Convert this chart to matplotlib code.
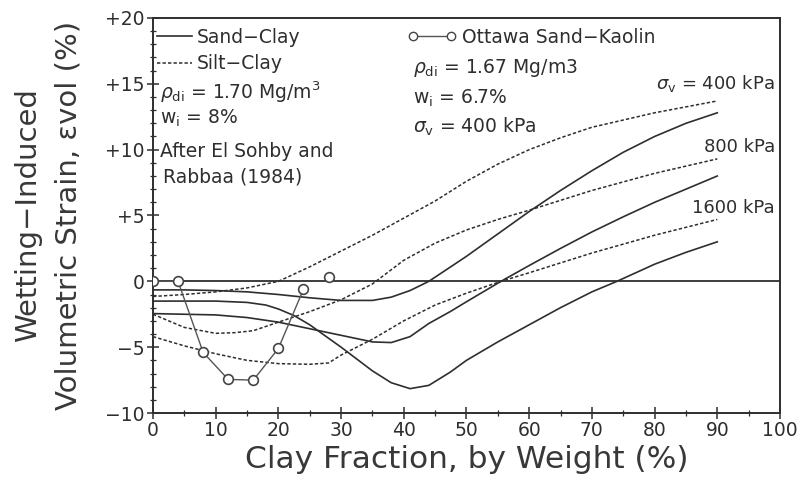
import numpy as np
import matplotlib
matplotlib.use('Agg')
import matplotlib.pyplot as plt
from matplotlib.lines import Line2D
from matplotlib.ticker import MultipleLocator

plt.rcParams['font.family'] = ['DejaVu Sans']
plt.rcParams['mathtext.fontset'] = 'dejavusans'

#--------------------------------------------------#
# El Sohby and Rabbaa (1984) curves, clay fraction (%) vs strain (%)
sand_400_x = [0, 5, 10, 15, 20, 25, 30, 35, 38, 41, 44, 50, 55, 60, 65, 70, 75, 80, 85, 90]
sand_400_y = [-0.65, -0.65, -0.7, -0.8, -1.0, -1.25, -1.45, -1.45, -1.2, -0.7, 0.0,
              1.9, 3.6, 5.3, 6.9, 8.4, 9.8, 11.0, 12.0, 12.8]
sand_800_x = [0, 5, 10, 15, 20, 25, 30, 35, 38, 41, 44, 47.4, 50, 55.5, 60, 65, 70, 75, 80, 85, 90]
sand_800_y = [-2.45, -2.5, -2.55, -2.75, -3.1, -3.6, -4.1, -4.6, -4.65, -4.2, -3.2, -2.3,
              -1.55, 0.0, 1.2, 2.5, 3.75, 4.9, 6.0, 7.0, 8.0]
sand_1600_x = [0, 5, 10, 15, 18, 20, 22.5, 25, 30, 35, 38, 41, 44, 47.4, 50, 55, 60, 65, 70,
               74, 80, 85, 90]
sand_1600_y = [-1.5, -1.5, -1.5, -1.6, -1.8, -2.1, -2.6, -3.3, -5.0, -6.8, -7.7, -8.15, -7.9,
               -6.9, -6.0, -4.6, -3.3, -2.0, -0.8, 0.0, 1.3, 2.2, 3.0]

silt_400_x = [0, 5, 10, 15, 20, 25, 30, 35, 40, 45, 50, 55, 60, 65, 70, 80, 90]
silt_400_y = [-1.15, -1.0, -0.8, -0.5, 0.0, 1.1, 2.3, 3.5, 4.8, 6.1, 7.6, 8.9, 10.0, 10.9,
              11.7, 12.8, 13.7]
silt_800_x = [0, 5, 10, 13, 16, 20, 25, 30, 35, 40, 45, 50, 55, 60, 70, 80, 90]
silt_800_y = [-2.5, -3.5, -3.95, -3.9, -3.75, -3.1, -2.3, -1.4, -0.2, 1.6, 2.9, 3.9, 4.7,
              5.4, 6.9, 8.2, 9.3]
silt_1600_x = [0, 5, 10, 15, 20, 25, 28, 30, 35, 40, 45, 50, 55.5, 60, 70, 80, 90]
silt_1600_y = [-4.2, -4.9, -5.5, -6.0, -6.25, -6.3, -6.2, -5.6, -4.4, -3.0, -1.8, -0.9, 0.0,
               0.65, 2.15, 3.5, 4.7]

# Ottawa sand - kaolin points
ottawa_x = [0, 4, 8, 12, 16, 20, 24, 28]
ottawa_y = [0.0, 0.0, -5.4, -7.45, -7.5, -5.1, -0.6, 0.3]

xticks = np.arange(0, 101, 10)
yticks = [-10, -5, 0, 5, 10, 15, 20]
ylabels = ['\u221210', '\u22125', '0', '+5', '+10', '+15', '+20']

ink = '#2e2e2e'
fs = 13.5
dash = (0, (2.2, 1.4))
#--------------------------------------------------#

fig = plt.figure(figsize=(8.06, 4.97), dpi=100)
ax = fig.add_axes([0.1898, 0.169, 0.7779, 0.7948])

ax.axhline(0, color=ink, lw=1.3, zorder=1)

ax.plot(sand_400_x, sand_400_y, color=ink, lw=1.2)
ax.plot(sand_800_x, sand_800_y, color=ink, lw=1.2)
ax.plot(sand_1600_x, sand_1600_y, color=ink, lw=1.2)
ax.plot(silt_400_x, silt_400_y, color=ink, lw=1.1, ls=dash)
ax.plot(silt_800_x, silt_800_y, color=ink, lw=1.1, ls=dash)
ax.plot(silt_1600_x, silt_1600_y, color=ink, lw=1.1, ls=dash)

ax.plot(ottawa_x[:-1], ottawa_y[:-1], color='#555555', lw=1.0, zorder=3)
ax.plot(ottawa_x, ottawa_y, 'o', ms=7, mfc='white', mec='#444444', mew=1.2, lw=0, zorder=4)

ax.set_xlim(0, 100)
ax.set_ylim(-10, 20)
ax.set_xticks(xticks)
ax.set_yticks(yticks)
ax.set_yticklabels(ylabels)
ax.xaxis.set_minor_locator(MultipleLocator(5))
ax.yaxis.set_minor_locator(MultipleLocator(1))
ax.tick_params(which='major', direction='inout', length=8, width=1.1, labelsize=13.5,
               colors=ink, pad=2)
ax.tick_params(which='minor', direction='inout', length=4, width=0.9, colors=ink)
for s in ax.spines.values():
    s.set_linewidth(1.4)
    s.set_color(ink)

ax.set_xlabel('Clay Fraction, by Weight (%)', fontsize=22.5, color='#383838', labelpad=3)
ax.set_ylabel('Wetting\u2212Induced\nVolumetric Strain, \u03b5vol (%)', fontsize=21,
              color='#383838', labelpad=16, linespacing=1.6)

# legends
h1 = [Line2D([], [], color=ink, lw=1.2), Line2D([], [], color=ink, lw=1.1, ls=dash)]
leg1 = ax.legend(h1, ['Sand\u2212Clay', 'Silt\u2212Clay'], loc='upper left',
                 bbox_to_anchor=(0.0, 0.985), frameon=False, fontsize=fs, handlelength=1.9,
                 handletextpad=0.25, borderaxespad=0, borderpad=0.2, labelspacing=0.4,
                 labelcolor=ink)
ax.add_artist(leg1)
h2 = [Line2D([], [], color='#555555', lw=1.0, marker='o', ms=6, mfc='white', mec='#444444')]
ax.legend(h2, ['Ottawa Sand\u2212Kaolin'], loc='upper left', bbox_to_anchor=(0.4, 0.985),
          frameon=False, fontsize=fs, handlelength=2.6, handletextpad=0.3, numpoints=2,
          borderaxespad=0, borderpad=0.2, labelcolor=ink)

# notes
tx = dict(transform=ax.transAxes, fontsize=fs, color=ink, va='center', ha='left')
ax.text(0.011, 0.813, r'$\rho_{\rm di}$ = 1.70 Mg/m$^3$', **tx)
ax.text(0.011, 0.745, r'w$_{\rm i}$ = 8%', **tx)
ax.text(0.011, 0.661, 'After El Sohby and', **tx)
ax.text(0.016, 0.597, 'Rabbaa (1984)', **tx)

ax.text(0.415, 0.873, r'$\rho_{\rm di}$ = 1.67 Mg/m3', **tx)
ax.text(0.415, 0.797, r'w$_{\rm i}$ = 6.7%', **tx)
ax.text(0.415, 0.724, r'$\sigma_{\rm v}$ = 400 kPa', **tx)

tr = dict(transform=ax.transAxes, fontsize=13, color=ink, va='center', ha='right')
ax.text(0.992, 0.835, r'$\sigma_{\rm v}$ = 400 kPa', **tr)
ax.text(0.992, 0.673, '800 kPa', **tr)
ax.text(0.992, 0.519, '1600 kPa', **tr)

fig.savefig('out.png', dpi=100)
